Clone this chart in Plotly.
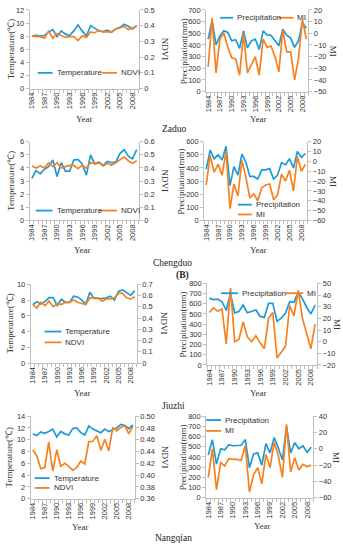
import plotly.graph_objects as go

W, H = 343, 550
years = list(range(1984, 2010))
tick_years = list(range(1984, 2009, 3))

# ---------------- data ----------------
zaduo_temp = [8.0, 8.1, 8.0, 8.1, 8.6, 9.0, 7.9, 8.8, 8.3, 8.1, 8.8, 9.7, 8.8, 8.0, 9.6, 9.2,
              8.8, 8.7, 8.9, 8.6, 9.1, 9.3, 9.8, 9.5, 9.1, 9.6]
zaduo_ndvi = [0.335, 0.33, 0.33, 0.32, 0.365, 0.32, 0.35, 0.335, 0.325, 0.33, 0.33, 0.305, 0.335,
              0.325, 0.36, 0.355, 0.37, 0.36, 0.36, 0.36, 0.38, 0.39, 0.395, 0.375, 0.385, 0.395]
zaduo_prec = [450, 610, 400, 478, 520, 506, 435, 444, 371, 520, 374, 435, 449, 360, 520, 486,
              483, 435, 393, 534, 483, 458, 379, 435, 590, 542]
zaduo_mi = [-29, 13, -34, -5, 0, -12, -21, -22, -36, 0, -34, -27, -20, -36, -5, -12,
            -11, -20, -33, 3, -16, -16, -40, -22, 12, -5]

chengduo_temp = [3.2, 3.8, 3.55, 3.9, 4.1, 4.6, 3.35, 4.4, 3.75, 3.75, 4.6, 4.65, 4.3, 3.45, 5.0,
                 4.3, 4.4, 4.2, 4.5, 4.4, 4.45, 5.1, 5.4, 4.9, 4.7, 5.4]
chengduo_ndvi = [0.415, 0.40, 0.415, 0.40, 0.44, 0.41, 0.44, 0.40, 0.41, 0.42, 0.42, 0.395, 0.42,
                 0.40, 0.44, 0.435, 0.445, 0.415, 0.435, 0.42, 0.44, 0.46, 0.485, 0.455, 0.435, 0.455]
chengduo_prec = [390, 535, 470, 500, 460, 565, 265, 410, 345, 505, 445, 335, 335, 315, 385, 385,
                 395, 315, 345, 440, 425, 470, 400, 525, 480, 510]
chengduo_mi = [-24, 6, -11, -3, -14, 10, -48, -23, -35, 1, -16, -37, -33, -40, -27, -24,
               -23, -39, -34, -13, -20, -9, -30, 5, -10, -3]

jiuzhi_temp = [7.4, 7.8, 7.5, 7.8, 8.3, 8.3, 7.3, 8.1, 7.7, 7.7, 8.5, 8.4, 8.0, 7.5, 9.0, 8.2,
               8.2, 8.2, 8.3, 8.5, 8.0, 9.1, 9.3, 9.0, 8.6, 9.2]
jiuzhi_ndvi = [0.52, 0.49, 0.54, 0.51, 0.55, 0.50, 0.53, 0.52, 0.54, 0.54, 0.56, 0.54, 0.53, 0.52,
               0.58, 0.58, 0.58, 0.55, 0.57, 0.57, 0.58, 0.62, 0.62, 0.58, 0.57, 0.59]
jiuzhi_prec = [653, 640, 645, 620, 534, 700, 511, 524, 588, 511, 524, 540, 476, 466, 604, 604,
               428, 460, 508, 620, 614, 717, 650, 566, 500, 588]
jiuzhi_mi = [25, 29, 26, 28, -2, 46, 0, 2, 17, 4, 0, 5, -1, -6, 20, 25,
             -14, -9, -4, 31, 22, 44, 20, 7, -6, 15]

nangqian_temp = [11.0, 10.7, 11.3, 11.1, 11.4, 11.8, 10.5, 11.4, 11.0, 10.8, 11.9, 12.0, 11.2,
                 10.8, 12.3, 11.8, 11.5, 11.2, 11.8, 11.4, 11.7, 12.0, 12.6, 12.4, 11.9, 12.5]
nangqian_ndvi = [0.443, 0.433, 0.411, 0.413, 0.456, 0.407, 0.443, 0.415, 0.42, 0.415, 0.408,
                 0.413, 0.424, 0.419, 0.457, 0.457, 0.467, 0.442, 0.461, 0.441, 0.481, 0.475,
                 0.481, 0.484, 0.47, 0.483]
nangqian_prec = [420, 570, 330, 480, 470, 520, 510, 510, 515, 570, 295, 430, 440, 320, 530, 440,
                 590, 490, 370, 700, 440, 540, 480, 510, 445, 495]
nangqian_mi = [-35, 0, -50, -17, -21, -12, -13, -13, -14, 4, -53, -32, -23, -43, -7, -23,
               8, -8, -35, 30, -28, -11, -26, -19, -22, -20]

BLUE = "#1E9BD7"
ORANGE = "#F7801F"
AXC = "#BFBFBF"
TXT = "#333333"
SANS = "Liberation Sans"
SERIF = "Liberation Serif"

def px(x):
    return x / W

def py(y):
    return 1 - y / H

# panel layout (pixel boxes) and styling
panels = [
    dict(box=(27, 137, 6, 86), s=("Temperature", "NDVI"), d=(zaduo_temp, zaduo_ndvi),
         l=(0, 12, 2), r=(0, 0.5, 0.1, None), lt="Temperature(℃)", rt="NDVI",
         ltx=8, rtx=163, year=(82, 117),
         leg=[(35, 50, 70, 52), (100, 115, 70, 117)]),
    dict(box=(205, 308, 6, 89), s=("Precipitation", "MI"), d=(zaduo_prec, zaduo_mi),
         l=(0, 700, 100), r=(-50, 20, 10, None), lt="Precipitation(mm)", rt="MI",
         ltx=182, rtx=333, year=(258, 117),
         leg=[(219, 232, 14, 234), (278, 293, 14, 295)]),
    dict(box=(27, 137, 140, 220), s=("Temperature", "NDVI"), d=(chengduo_temp, chengduo_ndvi),
         l=(0, 6, 1), r=(0, 0.6, 0.1, None), lt="Temperature(℃)", rt="NDVI",
         ltx=8, rtx=163, year=(80, 250),
         leg=[(33, 50, 210, 52), (97, 115, 210, 117)]),
    dict(box=(203, 307, 140, 220), s=("Precipitation", "MI"), d=(chengduo_prec, chengduo_mi),
         l=(0, 600, 100), r=(-60, 20, 10, None), lt="Precipitation(mm)", rt="MI",
         ltx=180, rtx=333, year=(258, 250),
         leg=[(237, 251, 204, 253), (237, 251, 214, 253)]),
    dict(box=(28, 135, 285, 365), s=("Temperature", "NDVI"), d=(jiuzhi_temp, jiuzhi_ndvi),
         l=(0, 10, 2), r=(0, 0.7, 0.1, None), lt="Temperature(℃)", rt="NDVI",
         ltx=7, rtx=163, year=(80, 395),
         leg=[(42, 59, 333, 61), (42, 59, 344, 61)]),
    dict(box=(206, 317, 284, 367), s=("Precipitation", "MI"), d=(jiuzhi_prec, jiuzhi_mi),
         l=(0, 800, 100), r=(-20, 50, 10, None), lt="Precipitation(mm)", rt="MI",
         ltx=182, rtx=337, year=(258, 395),
         leg=[(220, 237, 294, 239), (285, 303, 294, 305)]),
    dict(box=(28, 133, 419, 503), s=("Temperature", "NDVI"), d=(nangqian_temp, nangqian_ndvi),
         l=(0, 14, 2), r=(0.36, 0.50, 0.02, ".2f"), lt="Temperature(℃)", rt="NDVI",
         ltx=7, rtx=163, year=(78, 532),
         leg=[(32, 47, 482, 49), (32, 47, 492, 49)]),
    dict(box=(205, 313, 419, 502), s=("Precipitation", "MI"), d=(nangqian_prec, nangqian_mi),
         l=(0, 800, 100), r=(-60, 40, 20, None), lt="Precipitation(mm)", rt="MI",
         ltx=182, rtx=336, year=(262, 531),
         leg=[(205, 220, 423, 222), (205, 220, 434, 222)]),
]

captions = [("Zaduo", 173, 127, False), ("Chengduo", 171, 263, False),
            ("(B)", 181, 276, True), ("Jiuzhi", 172, 409, False), ("Nangqian", 172, 543, False)]

fig = go.Figure()
layout = dict(width=W, height=H, autosize=False, margin=dict(l=0, r=0, t=0, b=0),
              paper_bgcolor="white", plot_bgcolor="white", showlegend=False)
annotations = []
shapes = []

tickfont = dict(family=SANS, size=7.5, color=TXT)
titlefont = dict(family=SERIF, size=9, color=TXT)
boundaries = [y - 0.5 for y in years] + [years[-1] + 0.5]

for i, p in enumerate(panels, start=1):
    x0, x1, y0, y1 = p["box"]
    xa = "xaxis" if i == 1 else f"xaxis{i}"
    xr = "x" if i == 1 else f"x{i}"
    yl_i, yr_i = 2 * i - 1, 2 * i
    yla = "yaxis" if yl_i == 1 else f"yaxis{yl_i}"
    ylr = "y" if yl_i == 1 else f"y{yl_i}"
    yra, yrr = f"yaxis{yr_i}", f"y{yr_i}"

    layout[xa] = dict(domain=[px(x0), px(x1)], anchor=ylr, range=[1983.5, 2009.5],
                      tickvals=tick_years, ticktext=[str(t) for t in tick_years],
                      tickangle=-90, tickfont=tickfont,
                      showline=True, linecolor=AXC, linewidth=1, ticks="",
                      minor=dict(tickmode="array", tickvals=boundaries, ticks="outside",
                                 ticklen=3, tickcolor=AXC, showgrid=False),
                      showgrid=False, zeroline=False)
    lo, hi, dt = p["l"]
    layout[yla] = dict(domain=[py(y1), py(y0)], anchor=xr, range=[lo, hi], dtick=dt,
                       tick0=lo, tickfont=tickfont, showline=True, linecolor=AXC,
                       ticks="outside", ticklen=3, tickcolor=AXC, showgrid=False,
                       zeroline=False)
    rlo, rhi, rdt, rfmt = p["r"]
    ry = dict(overlaying=ylr, side="right", anchor=xr, range=[rlo, rhi], dtick=rdt,
              tick0=rlo, tickfont=tickfont, showline=True, linecolor=AXC,
              ticks="outside", ticklen=3, tickcolor=AXC, showgrid=False, zeroline=False)
    if rfmt:
        ry["tickformat"] = rfmt
    layout[yra] = ry

    fig.add_trace(go.Scatter(x=years, y=p["d"][0], mode="lines", name=p["s"][0],
                             line=dict(color=BLUE, width=1.7), xaxis=xr, yaxis=ylr))
    fig.add_trace(go.Scatter(x=years, y=p["d"][1], mode="lines", name=p["s"][1],
                             line=dict(color=ORANGE, width=1.7), xaxis=xr, yaxis=yrr))

    # axis titles
    yc = (y0 + y1) / 2
    annotations.append(dict(text=p["lt"], x=px(p["ltx"]), y=py(yc), xref="paper", yref="paper",
                            textangle=-90, showarrow=False, font=titlefont,
                            xanchor="center", yanchor="middle", borderpad=0))
    annotations.append(dict(text=p["rt"], x=px(p["rtx"]), y=py(yc), xref="paper", yref="paper",
                            textangle=90, showarrow=False, font=titlefont,
                            xanchor="center", yanchor="middle", borderpad=0))
    annotations.append(dict(text="Year", x=px(p["year"][0]), y=py(p["year"][1]), xref="paper",
                            yref="paper", showarrow=False, font=titlefont,
                            xanchor="center", yanchor="middle"))
    # legend keys
    for (lx0, lx1, ly, tx), name, col in zip(p["leg"], p["s"], (BLUE, ORANGE)):
        shapes.append(dict(type="line", xref="paper", yref="paper", x0=px(lx0), x1=px(lx1),
                           y0=py(ly), y1=py(ly), line=dict(color=col, width=1.8)))
        annotations.append(dict(text=name, x=px(tx), y=py(ly), xref="paper", yref="paper",
                                showarrow=False, font=dict(family=SANS, size=8, color=TXT),
                                xanchor="left", yanchor="middle"))

for text, cx, cy, bold in captions:
    annotations.append(dict(text=f"<b>{text}</b>" if bold else text, x=px(cx), y=py(cy),
                            xref="paper", yref="paper", showarrow=False,
                            font=dict(family=SERIF, size=9.5, color="#222222"),
                            xanchor="center", yanchor="middle"))

layout["annotations"] = annotations
layout["shapes"] = shapes
fig.update_layout(**layout)
fig.write_html("out.html", config={"displayModeBar": False, "staticPlot": True},
               post_script="document.body.style.margin='0';document.body.style.overflow='hidden';")
